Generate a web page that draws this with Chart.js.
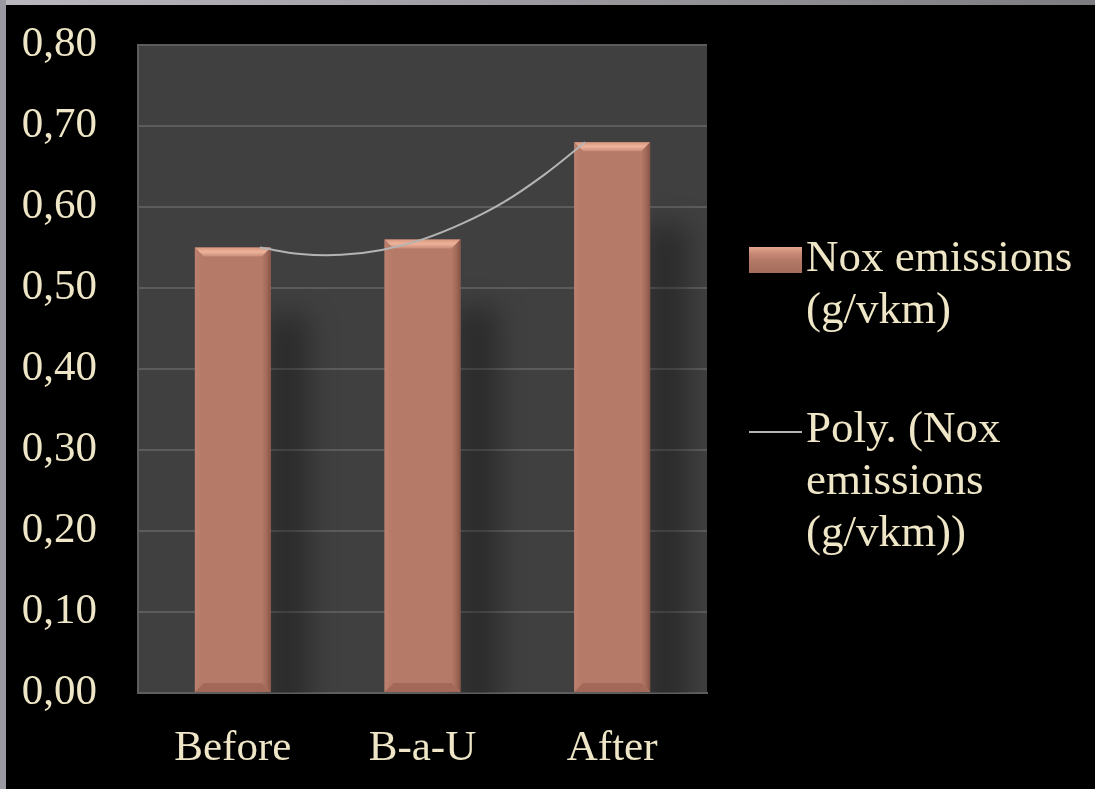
<!DOCTYPE html>
<html>
<head>
<meta charset="utf-8">
<script src="https://cdn.jsdelivr.net/npm/chart.js@4/dist/chart.umd.min.js"></script>
<style>
  html, body { margin:0; padding:0; background:#000; width:1095px; height:789px; overflow:hidden; }
  #frameTop { position:absolute; left:0; top:0; width:1095px; height:5px; background:linear-gradient(to right,#bab7be,#7d7c80); }
  #frameLeft { position:absolute; left:0; top:0; width:6px; height:789px; background:#9b99a1; }
  #wrap { position:absolute; left:0; top:0; width:1095px; height:789px; }
  .leg { position:absolute; left:749px; font-family:"Liberation Serif","Times New Roman",serif; font-size:45px; line-height:52px; color:#eee6c6; }
  .leg .txt { position:absolute; left:57px; top:0; white-space:nowrap; }
  .sw { position:absolute; left:0; width:53px; height:26px; background:linear-gradient(to bottom,#e6a68e 0%,#c88a76 25%,#b57a68 50%,#a36c5b 100%); }
  .ln { position:absolute; left:0; width:53px; height:2px; background:#b4b4b4; }
</style>
</head>
<body>
<div id="wrap"><canvas id="c" width="1095" height="789"></canvas></div>
<div id="frameTop"></div>
<div id="frameLeft"></div>
<div class="leg" id="leg1" style="top:230px;"><div class="sw" style="top:17px;"></div><div class="txt"></div></div>
<div class="leg" id="leg2" style="top:401px;"><div class="ln" style="top:30px;"></div><div class="txt"></div></div>
<script>
const categories = ["Before", "B-a-U", "After"];
const noxValues = [0.55, 0.56, 0.68];
// trendline (polynomial), x in category units
const trendX = [0, 0.25, 0.5, 0.75, 1.0, 1.25, 1.5, 1.75, 2.0];
const trendY = [0.550, 0.542, 0.541, 0.547, 0.560, 0.580, 0.606, 0.640, 0.680];
const yTicks = [0, 0.1, 0.2, 0.3, 0.4, 0.5, 0.6, 0.7, 0.8];
const seriesName = "Nox emissions (g/vkm)";
const trendLegendLines = ["Poly. (Nox", "emissions", "(g/vkm))"];
const seriesLegendLines = ["Nox emissions", "(g/vkm)"];

document.querySelector('#leg1 .txt').innerHTML = seriesLegendLines.join('<br>');
document.querySelector('#leg2 .txt').innerHTML = trendLegendLines.join('<br>');

const FONT = { family: '"Liberation Serif","Times New Roman",serif', size: 43 };
const TXT = '#eee6c6';

const plotBg = {
  id: 'plotBg',
  beforeDraw(chart) {
    const { ctx, chartArea: a } = chart;
    ctx.save();
    ctx.fillStyle = '#404040';
    ctx.fillRect(a.left, a.top, a.right - a.left, a.bottom - a.top);
    ctx.restore();
  },
  beforeDatasetsDraw(chart) {
    const { ctx, chartArea: a } = chart;
    const meta = chart.getDatasetMeta(0);
    ctx.save();
    ctx.beginPath();
    ctx.rect(a.left, a.top, a.right - a.left, a.bottom - a.top);
    ctx.clip();
    ctx.filter = 'blur(14px)';
    ctx.fillStyle = 'rgba(0,0,0,0.32)';
    meta.data.forEach(b => {
      const right = b.x + b.width / 2;
      const top = b.y + (b.base - b.y) * 0.15;
      ctx.fillRect(right - 6, top, 44, b.base - top + 30);
    });
    ctx.restore();
  }
};

const bevel = {
  id: 'bevel',
  afterDatasetDraw(chart, args) {
    if (args.index !== 0) return;
    const { ctx } = chart;
    const meta = chart.getDatasetMeta(0);
    const s = 9;
    ctx.save();
    meta.data.forEach(b => {
      const l = b.x - b.width / 2, r = b.x + b.width / 2, t = b.y, bt = b.base;
      let g = ctx.createLinearGradient(0, t, 0, t + s);
      g.addColorStop(0, '#d9977f'); g.addColorStop(0.5, '#eeb39b'); g.addColorStop(1, '#c98b77');
      ctx.fillStyle = g;
      ctx.beginPath(); ctx.moveTo(l, t); ctx.lineTo(r, t); ctx.lineTo(r - s, t + s); ctx.lineTo(l + s, t + s); ctx.closePath(); ctx.fill();
      g = ctx.createLinearGradient(r - s, 0, r, 0);
      g.addColorStop(0, 'rgba(150,95,80,0)'); g.addColorStop(1, 'rgba(130,80,66,0.9)');
      ctx.fillStyle = g;
      ctx.beginPath(); ctx.moveTo(r, t); ctx.lineTo(r, bt); ctx.lineTo(r - s, bt - s); ctx.lineTo(r - s, t + s); ctx.closePath(); ctx.fill();
      g = ctx.createLinearGradient(l, 0, l + s, 0);
      g.addColorStop(0, 'rgba(190,130,112,0.9)'); g.addColorStop(1, 'rgba(181,122,104,0)');
      ctx.fillStyle = g;
      ctx.beginPath(); ctx.moveTo(l, t); ctx.lineTo(l + s, t + s); ctx.lineTo(l + s, bt - s); ctx.lineTo(l, bt); ctx.closePath(); ctx.fill();
      ctx.fillStyle = 'rgba(160,100,85,0.8)';
      ctx.beginPath(); ctx.moveTo(l, bt); ctx.lineTo(l + s, bt - s); ctx.lineTo(r - s, bt - s); ctx.lineTo(r, bt); ctx.closePath(); ctx.fill();
    });
    ctx.restore();
  }
};

new Chart(document.getElementById('c'), {
  type: 'bar',
  data: {
    labels: categories,
    datasets: [
      {
        type: 'bar',
        label: seriesName,
        data: noxValues,
        backgroundColor: '#b57a68',
        borderWidth: 0,
        grouped: false,
        barPercentage: 0.4,
        categoryPercentage: 1.0,
        order: 2
      },
      {
        type: 'line',
        label: 'Poly. (' + seriesName + ')',
        data: trendX.map((x, i) => ({ x: x, y: trendY[i] })),
        xAxisID: 'xt',
        borderColor: '#b4b4b4',
        borderWidth: 2,
        pointRadius: 0,
        tension: 0.4,
        fill: false,
        order: 1
      }
    ]
  },
  options: {
    responsive: false,
    animation: false,
    events: [],
    layout: { padding: { left: 0, right: 388, top: 45, bottom: 0 } },
    plugins: { legend: { display: false }, tooltip: { enabled: false } },
    scales: {
      x: {
        type: 'category',
        grid: { display: false, drawTicks: false },
        border: { display: true, color: '#5e5e5e', width: 2 },
        ticks: { color: TXT, font: FONT, padding: 30, maxRotation: 0 },
        afterFit(scale) { scale.height = 96; scale.paddingLeft = 0; scale.paddingRight = 0; }
      },
      xt: {
        type: 'linear',
        display: false,
        min: -0.5,
        max: 2.5
      },
      y: {
        min: 0, max: 0.8,
        afterBuildTicks(scale) { scale.ticks = yTicks.map(v => ({ value: v })); },
        grid: { color: '#5c5c5c', lineWidth: 2, drawTicks: false },
        border: { display: true, color: '#5e5e5e', width: 2 },
        ticks: {
          color: TXT, font: FONT, padding: 41,
          callback: v => v.toFixed(2).replace('.', ',')
        },
        afterFit(scale) { scale.width = 138; scale.paddingTop = 0; scale.paddingBottom = 0; }
      }
    }
  },
  plugins: [plotBg, bevel]
});
</script>
</body>
</html>
